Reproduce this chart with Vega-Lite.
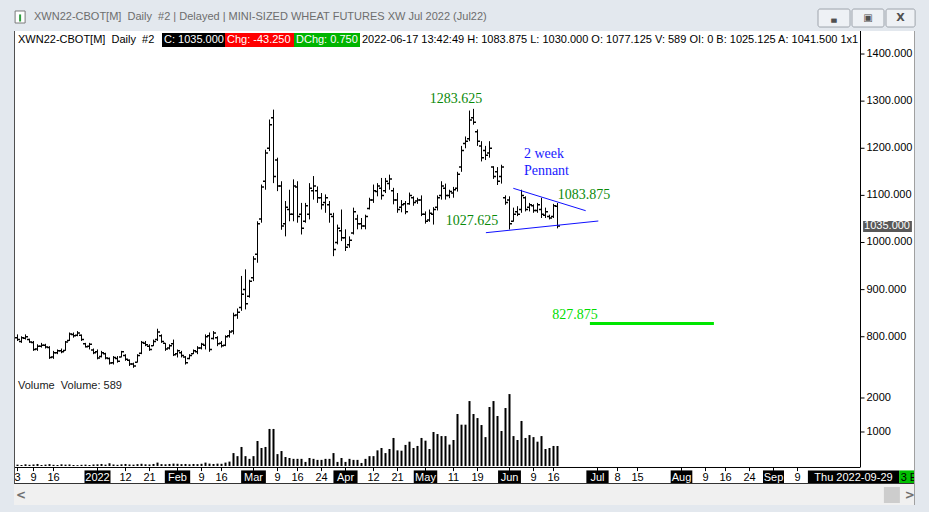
{
"$schema": "https://vega.github.io/schema/vega-lite/v6.json",
"background": "#e3e8ee",
"autosize": {"type": "none"},
"width": 901,
"height": 474,
"padding": {"left": 14, "right": 14, "top": 31, "bottom": 7},
"config": {"view": {"stroke": null, "fill": "#ffffff"}, "font": "Liberation Sans"},
"datasets": {
"bars": [
{"t":0,"o":798,"h":805,"l":791,"c":794,"v":40},
{"t":1,"o":790,"h":801,"l":787,"c":798,"v":30},
{"t":2,"o":797,"h":805,"l":794,"c":800,"v":50},
{"t":3,"o":794,"h":796,"l":787,"c":789,"v":35},
{"t":4,"o":788,"h":791,"l":770,"c":773,"v":45},
{"t":5,"o":774,"h":784,"l":770,"c":780,"v":60},
{"t":6,"o":780,"h":787,"l":777,"c":782,"v":30},
{"t":7,"o":782,"h":785,"l":775,"c":778,"v":40},
{"t":8,"o":777,"h":780,"l":753,"c":756,"v":55},
{"t":9,"o":757,"h":770,"l":753,"c":766,"v":35},
{"t":10,"o":766,"h":773,"l":763,"c":770,"v":30},
{"t":11,"o":770,"h":775,"l":765,"c":768,"v":50},
{"t":12,"o":771,"h":791,"l":770,"c":789,"v":40},
{"t":13,"o":792,"h":809,"l":791,"c":806,"v":45},
{"t":14,"o":805,"h":809,"l":798,"c":802,"v":30},
{"t":15,"o":803,"h":812,"l":801,"c":808,"v":25},
{"t":16,"o":803,"h":805,"l":791,"c":794,"v":35},
{"t":17,"o":785,"h":787,"l":777,"c":779,"v":40},
{"t":18,"o":780,"h":787,"l":773,"c":784,"v":30},
{"t":19,"o":772,"h":775,"l":763,"c":766,"v":45},
{"t":20,"o":768,"h":773,"l":752,"c":755,"v":50},
{"t":21,"o":758,"h":770,"l":756,"c":766,"v":60},
{"t":22,"o":764,"h":766,"l":752,"c":755,"v":40},
{"t":23,"o":754,"h":756,"l":741,"c":744,"v":80},
{"t":24,"o":745,"h":759,"l":741,"c":756,"v":45},
{"t":25,"o":754,"h":759,"l":745,"c":748,"v":35},
{"t":26,"o":757,"h":770,"l":756,"c":768,"v":50},
{"t":27,"o":760,"h":763,"l":749,"c":752,"v":60},
{"t":28,"o":750,"h":752,"l":738,"c":742,"v":45},
{"t":29,"o":742,"h":745,"l":734,"c":738,"v":40},
{"t":30,"o":746,"h":763,"l":745,"c":760,"v":55},
{"t":31,"o":765,"h":791,"l":763,"c":788,"v":65},
{"t":32,"o":786,"h":791,"l":780,"c":783,"v":50},
{"t":33,"o":780,"h":784,"l":770,"c":773,"v":45},
{"t":34,"o":781,"h":794,"l":780,"c":790,"v":60},
{"t":35,"o":794,"h":817,"l":791,"c":810,"v":100},
{"t":36,"o":802,"h":805,"l":787,"c":790,"v":55},
{"t":37,"o":786,"h":787,"l":770,"c":774,"v":50},
{"t":38,"o":776,"h":784,"l":773,"c":781,"v":60},
{"t":39,"o":785,"h":794,"l":759,"c":762,"v":70},
{"t":40,"o":764,"h":773,"l":756,"c":770,"v":65},
{"t":41,"o":766,"h":770,"l":756,"c":760,"v":55},
{"t":42,"o":757,"h":759,"l":741,"c":745,"v":60},
{"t":43,"o":754,"h":763,"l":752,"c":760,"v":50},
{"t":44,"o":764,"h":773,"l":763,"c":770,"v":60},
{"t":45,"o":768,"h":780,"l":763,"c":776,"v":55},
{"t":46,"o":776,"h":787,"l":773,"c":784,"v":65},
{"t":47,"o":782,"h":805,"l":773,"c":800,"v":100},
{"t":48,"o":802,"h":809,"l":768,"c":773,"v":70},
{"t":49,"o":796,"h":812,"l":794,"c":808,"v":60},
{"t":50,"o":798,"h":801,"l":780,"c":785,"v":70},
{"t":51,"o":786,"h":791,"l":777,"c":781,"v":65},
{"t":52,"o":782,"h":803,"l":780,"c":800,"v":100},
{"t":53,"o":802,"h":814,"l":798,"c":810,"v":130},
{"t":54,"o":812,"h":851,"l":805,"c":845,"v":380},
{"t":55,"o":846,"h":860,"l":838,"c":852,"v":290},
{"t":56,"o":862,"h":929,"l":855,"c":890,"v":560},
{"t":57,"o":900,"h":943,"l":858,"c":870,"v":290},
{"t":58,"o":886,"h":921,"l":883,"c":918,"v":210},
{"t":59,"o":925,"h":971,"l":918,"c":965,"v":290},
{"t":60,"o":975,"h":1045,"l":957,"c":1040,"v":735},
{"t":61,"o":1050,"h":1123,"l":1042,"c":1118,"v":530},
{"t":62,"o":1130,"h":1197,"l":1112,"c":1190,"v":560},
{"t":63,"o":1200,"h":1261,"l":1194,"c":1250,"v":1090},
{"t":64,"o":1265,"h":1282,"l":1126,"c":1140,"v":1090},
{"t":65,"o":1175,"h":1180,"l":1109,"c":1120,"v":350},
{"t":66,"o":1120,"h":1130,"l":1027,"c":1035,"v":440},
{"t":67,"o":1040,"h":1088,"l":1013,"c":1075,"v":265},
{"t":68,"o":1070,"h":1112,"l":1045,"c":1060,"v":235},
{"t":69,"o":1060,"h":1134,"l":1045,"c":1120,"v":210},
{"t":70,"o":1118,"h":1130,"l":1042,"c":1055,"v":210},
{"t":71,"o":1060,"h":1084,"l":1017,"c":1030,"v":210},
{"t":72,"o":1045,"h":1084,"l":1042,"c":1078,"v":120},
{"t":73,"o":1060,"h":1126,"l":1049,"c":1115,"v":235},
{"t":74,"o":1110,"h":1141,"l":1091,"c":1120,"v":210},
{"t":75,"o":1110,"h":1119,"l":1084,"c":1095,"v":180},
{"t":76,"o":1095,"h":1105,"l":1070,"c":1080,"v":180},
{"t":77,"o":1085,"h":1102,"l":1063,"c":1095,"v":210},
{"t":78,"o":1080,"h":1088,"l":1042,"c":1060,"v":210},
{"t":79,"o":1055,"h":1063,"l":971,"c":985,"v":380},
{"t":80,"o":1000,"h":1038,"l":996,"c":1030,"v":120},
{"t":81,"o":1025,"h":1070,"l":1003,"c":1010,"v":235},
{"t":82,"o":1010,"h":1028,"l":982,"c":990,"v":120},
{"t":83,"o":995,"h":1013,"l":989,"c":1005,"v":210},
{"t":84,"o":1020,"h":1074,"l":1017,"c":1065,"v":180},
{"t":85,"o":1050,"h":1059,"l":1028,"c":1040,"v":180},
{"t":86,"o":1040,"h":1052,"l":1028,"c":1035,"v":90},
{"t":87,"o":1035,"h":1059,"l":1028,"c":1055,"v":210},
{"t":88,"o":1072,"h":1095,"l":1070,"c":1090,"v":290},
{"t":89,"o":1090,"h":1123,"l":1084,"c":1110,"v":290},
{"t":90,"o":1108,"h":1126,"l":1098,"c":1120,"v":460},
{"t":91,"o":1115,"h":1137,"l":1091,"c":1100,"v":530},
{"t":92,"o":1110,"h":1137,"l":1105,"c":1130,"v":380},
{"t":93,"o":1125,"h":1144,"l":1112,"c":1135,"v":500},
{"t":94,"o":1110,"h":1116,"l":1081,"c":1090,"v":825},
{"t":95,"o":1090,"h":1105,"l":1063,"c":1070,"v":460},
{"t":96,"o":1075,"h":1090,"l":1064,"c":1080,"v":450},
{"t":97,"o":1082,"h":1088,"l":1060,"c":1065,"v":620},
{"t":98,"o":1082,"h":1106,"l":1080,"c":1100,"v":715},
{"t":99,"o":1095,"h":1098,"l":1078,"c":1085,"v":530},
{"t":100,"o":1088,"h":1095,"l":1082,"c":1090,"v":590},
{"t":101,"o":1090,"h":1100,"l":1056,"c":1060,"v":825},
{"t":102,"o":1060,"h":1066,"l":1040,"c":1045,"v":745},
{"t":103,"o":1048,"h":1070,"l":1044,"c":1062,"v":500},
{"t":104,"o":1060,"h":1075,"l":1038,"c":1070,"v":1000},
{"t":105,"o":1075,"h":1100,"l":1068,"c":1095,"v":940},
{"t":106,"o":1100,"h":1130,"l":1091,"c":1120,"v":880},
{"t":107,"o":1115,"h":1125,"l":1091,"c":1100,"v":880},
{"t":108,"o":1100,"h":1112,"l":1094,"c":1108,"v":630},
{"t":109,"o":1105,"h":1118,"l":1095,"c":1112,"v":765},
{"t":110,"o":1115,"h":1150,"l":1108,"c":1145,"v":1530},
{"t":111,"o":1160,"h":1205,"l":1150,"c":1195,"v":1215},
{"t":112,"o":1210,"h":1225,"l":1200,"c":1215,"v":1215},
{"t":113,"o":1220,"h":1280,"l":1215,"c":1260,"v":1910},
{"t":114,"o":1265,"h":1283.625,"l":1250,"c":1255,"v":1530},
{"t":115,"o":1235,"h":1240,"l":1205,"c":1215,"v":1410},
{"t":116,"o":1205,"h":1215,"l":1172,"c":1180,"v":1205},
{"t":117,"o":1195,"h":1205,"l":1175,"c":1185,"v":850},
{"t":118,"o":1190,"h":1215,"l":1180,"c":1200,"v":1735},
{"t":119,"o":1160,"h":1162,"l":1135,"c":1140,"v":1910},
{"t":120,"o":1150,"h":1160,"l":1122,"c":1130,"v":1470},
{"t":121,"o":1140,"h":1165,"l":1125,"c":1160,"v":1030},
{"t":122,"o":1095,"h":1100,"l":1080,"c":1085,"v":1705},
{"t":123,"o":1090,"h":1098,"l":1027.625,"c":1040,"v":2115},
{"t":124,"o":1045,"h":1074,"l":1044,"c":1060,"v":880},
{"t":125,"o":1065,"h":1077,"l":1056,"c":1060,"v":765},
{"t":126,"o":1070,"h":1112,"l":1063,"c":1100,"v":1325},
{"t":127,"o":1095,"h":1098,"l":1066,"c":1070,"v":825},
{"t":128,"o":1075,"h":1084,"l":1066,"c":1080,"v":910},
{"t":129,"o":1078,"h":1081,"l":1063,"c":1068,"v":850},
{"t":130,"o":1068,"h":1084,"l":1063,"c":1080,"v":715},
{"t":131,"o":1070,"h":1095,"l":1052,"c":1060,"v":880},
{"t":132,"o":1058,"h":1074,"l":1052,"c":1065,"v":500},
{"t":133,"o":1055,"h":1059,"l":1049,"c":1052,"v":530},
{"t":134,"o":1055,"h":1082,"l":1052,"c":1078.25,"v":590},
{"t":135,"o":1077.125,"h":1083.875,"l":1030,"c":1035,"v":589}
],
"pticks": [{"p":800,"label":"800.000"},{"p":900,"label":"900.000"},{"p":1000,"label":"1000.000"},{"p":1100,"label":"1100.000"},{"p":1200,"label":"1200.000"},{"p":1300,"label":"1300.000"},{"p":1400,"label":"1400.000"}],
"vticks": [{"v":1000,"label":"1000"},{"v":2000,"label":"2000"}],
"days": [{"t":0,"label":"3"},{"t":4,"label":"9"},{"t":9,"label":"16"},{"t":27,"label":"12"},{"t":33,"label":"21"},{"t":46,"label":"9"},{"t":51,"label":"16"},{"t":65,"label":"9"},{"t":70,"label":"16"},{"t":76,"label":"24"},{"t":89,"label":"12"},{"t":95,"label":"21"},{"t":109,"label":"11"},{"t":115,"label":"19"},{"t":129,"label":"9"},{"t":134,"label":"16"},{"t":150,"label":"8"},{"t":155,"label":"15"},{"t":172,"label":"9"},{"t":177,"label":"16"},{"t":183,"label":"24"},{"t":195,"label":"9"}],
"months": [{"t":20,"label":"2022"},{"t":40,"label":"Feb"},{"t":59,"label":"Mar"},{"t":82,"label":"Apr"},{"t":102,"label":"May"},{"t":123,"label":"Jun"},{"t":145,"label":"Jul"},{"t":166,"label":"Aug"},{"t":189,"label":"Sep"}]
},
"resolve": {"scale": {"y": "independent"}},
"layer": [
{
"layer": [
{"data": {"name": "bars"}, "mark": {"type": "rule", "color": "#000000", "strokeWidth": 1},
 "encoding": {
  "x": {"field": "t", "type": "quantitative", "scale": {"domain": [-0.875, 224.375], "nice": false, "zero": false, "padding": 0}, "axis": null},
  "y": {"field": "l", "type": "quantitative", "scale": {"domain": [442.9, 1448.85], "nice": false, "zero": false, "padding": 0}, "axis": null},
  "y2": {"field": "h"}
 }},
{"data": {"name": "bars"}, "mark": {"type": "tick", "orient": "horizontal", "size": 2, "thickness": 1.5, "xOffset": -1.5, "color": "#000000", "opacity": 1},
 "encoding": {"x": {"field": "t", "type": "quantitative", "axis": null}, "y": {"field": "o", "type": "quantitative", "axis": null}}},
{"data": {"name": "bars"}, "mark": {"type": "tick", "orient": "horizontal", "size": 2, "thickness": 1.5, "xOffset": 1.5, "color": "#000000", "opacity": 1},
 "encoding": {"x": {"field": "t", "type": "quantitative", "axis": null}, "y": {"field": "c", "type": "quantitative", "axis": null}}},
{"data": {"name": "pticks"}, "mark": {"type": "rule", "color": "#000000", "strokeWidth": 1},
 "encoding": {"x": {"datum": 210.75, "type": "quantitative", "axis": null}, "x2": {"datum": 211.75}, "y": {"field": "p", "type": "quantitative", "axis": null}}},
{"data": {"name": "pticks"}, "mark": {"type": "text", "font": "Liberation Sans", "fontSize": 11, "color": "#000000", "align": "left", "baseline": "middle"},
 "encoding": {"x": {"datum": 212.25, "type": "quantitative", "axis": null}, "y": {"field": "p", "type": "quantitative", "axis": null}, "text": {"field": "label"}}},
{"data": {"values": [{}]}, "mark": {"type": "rule", "color": "#1010ff", "strokeWidth": 1},
 "encoding": {"x": {"datum": 123.95, "type": "quantitative", "axis": null}, "y": {"datum": 1115.0, "type": "quantitative", "axis": null}, "x2": {"datum": 142.05}, "y2": {"datum": 1067.5}}},
{"data": {"values": [{}]}, "mark": {"type": "rule", "color": "#1010ff", "strokeWidth": 1},
 "encoding": {"x": {"datum": 117.1, "type": "quantitative", "axis": null}, "y": {"datum": 1020.8, "type": "quantitative", "axis": null}, "x2": {"datum": 145.2}, "y2": {"datum": 1045.6}}},
{"data": {"values": [{}]}, "mark": {"type": "rule", "color": "#00e600", "strokeWidth": 3},
 "encoding": {"x": {"datum": 143.1, "type": "quantitative", "axis": null}, "x2": {"datum": 174.1}, "y": {"datum": 827.875, "type": "quantitative", "axis": null}}},
{"data": {"values": [{}]}, "mark": {"type": "text", "text": "1283.625", "font": "Liberation Serif", "fontSize": 14, "color": "#0a8a0a", "align": "center", "baseline": "middle"},
 "encoding": {"x": {"datum": 109.6, "type": "quantitative", "axis": null}, "y": {"datum": 1303.5, "type": "quantitative", "axis": null}}},
{"data": {"values": [{}]}, "mark": {"type": "text", "text": "1027.625", "font": "Liberation Serif", "fontSize": 14, "color": "#0a8a0a", "align": "center", "baseline": "middle"},
 "encoding": {"x": {"datum": 113.6, "type": "quantitative", "axis": null}, "y": {"datum": 1045.6, "type": "quantitative", "axis": null}}},
{"data": {"values": [{}]}, "mark": {"type": "text", "text": "1083.875", "font": "Liberation Serif", "fontSize": 14, "color": "#0a8a0a", "align": "center", "baseline": "middle"},
 "encoding": {"x": {"datum": 141.6, "type": "quantitative", "axis": null}, "y": {"datum": 1100.8, "type": "quantitative", "axis": null}}},
{"data": {"values": [{}]}, "mark": {"type": "text", "text": "2 week", "font": "Liberation Serif", "fontSize": 14, "color": "#1a1aff", "align": "left", "baseline": "middle"},
 "encoding": {"x": {"datum": 126.6, "type": "quantitative", "axis": null}, "y": {"datum": 1186.8, "type": "quantitative", "axis": null}}},
{"data": {"values": [{}]}, "mark": {"type": "text", "text": "Pennant", "font": "Liberation Serif", "fontSize": 14, "color": "#1a1aff", "align": "left", "baseline": "middle"},
 "encoding": {"x": {"datum": 126.6, "type": "quantitative", "axis": null}, "y": {"datum": 1151.7, "type": "quantitative", "axis": null}}},
{"data": {"values": [{}]}, "mark": {"type": "text", "text": "827.875", "font": "Liberation Serif", "fontSize": 14, "color": "#00dd00", "align": "center", "baseline": "middle"},
 "encoding": {"x": {"datum": 139.4, "type": "quantitative", "axis": null}, "y": {"datum": 846.1, "type": "quantitative", "axis": null}}},
{"data": {"values": [{}]}, "mark": {"type": "text", "text": "XWN22-CBOT[M]\u00a0 Daily\u00a0 #2", "font": "Liberation Sans", "fontSize": 11, "color": "#000000", "align": "left", "baseline": "middle"},
 "encoding": {"x": {"datum": 0.125, "type": "quantitative", "axis": null}, "y": {"datum": 1429.8, "type": "quantitative", "axis": null}}},
{"data": {"values": [{}]}, "mark": {"type": "rect", "color": "#000000"},
 "encoding": {"x": {"datum": 36.125, "type": "quantitative", "axis": null}, "x2": {"datum": 51.875}, "y": {"datum": 1444.6, "type": "quantitative", "axis": null}, "y2": {"datum": 1414.9}}},
{"data": {"values": [{}]}, "mark": {"type": "text", "text": "C: 1035.000", "font": "Liberation Sans", "fontSize": 11, "color": "#ffffff", "align": "left", "baseline": "middle"},
 "encoding": {"x": {"datum": 36.625, "type": "quantitative", "axis": null}, "y": {"datum": 1429.8, "type": "quantitative", "axis": null}}},
{"data": {"values": [{}]}, "mark": {"type": "rect", "color": "#ff0000"},
 "encoding": {"x": {"datum": 51.875, "type": "quantitative", "axis": null}, "x2": {"datum": 69.125}, "y": {"datum": 1444.6, "type": "quantitative", "axis": null}, "y2": {"datum": 1414.9}}},
{"data": {"values": [{}]}, "mark": {"type": "text", "text": "Chg: -43.250", "font": "Liberation Sans", "fontSize": 11, "color": "#ffffff", "align": "left", "baseline": "middle"},
 "encoding": {"x": {"datum": 52.375, "type": "quantitative", "axis": null}, "y": {"datum": 1429.8, "type": "quantitative", "axis": null}}},
{"data": {"values": [{}]}, "mark": {"type": "rect", "color": "#00b400"},
 "encoding": {"x": {"datum": 69.125, "type": "quantitative", "axis": null}, "x2": {"datum": 85.625}, "y": {"datum": 1444.6, "type": "quantitative", "axis": null}, "y2": {"datum": 1414.9}}},
{"data": {"values": [{}]}, "mark": {"type": "text", "text": "DChg: 0.750", "font": "Liberation Sans", "fontSize": 11, "color": "#ffffff", "align": "left", "baseline": "middle"},
 "encoding": {"x": {"datum": 69.625, "type": "quantitative", "axis": null}, "y": {"datum": 1429.8, "type": "quantitative", "axis": null}}},
{"data": {"values": [{}]}, "mark": {"type": "text", "text": "2022-06-17 13:42:49 H: 1083.875 L: 1030.000 O: 1077.125 V: 589 OI: 0 B: 1025.125 A: 1041.500 1x1", "font": "Liberation Sans", "fontSize": 11, "color": "#000000", "align": "left", "baseline": "middle"},
 "encoding": {"x": {"datum": 86.125, "type": "quantitative", "axis": null}, "y": {"datum": 1429.8, "type": "quantitative", "axis": null}}},
{"data": {"values": [{}]}, "mark": {"type": "rect", "color": "#595959"},
 "encoding": {"x": {"datum": 211.4, "type": "quantitative", "axis": null}, "x2": {"datum": 223.6}, "y": {"datum": 1045.6, "type": "quantitative", "axis": null}, "y2": {"datum": 1022.3}}},
{"data": {"values": [{}]}, "mark": {"type": "text", "text": "1035.000", "font": "Liberation Sans", "fontSize": 11, "color": "#ffffff", "align": "left", "baseline": "middle"},
 "encoding": {"x": {"datum": 211.65, "type": "quantitative", "axis": null}, "y": {"datum": 1034, "type": "quantitative", "axis": null}}},
{"data": {"values": [{}]}, "mark": {"type": "text", "text": "XWN22-CBOT[M]\u00a0 Daily\u00a0 #2 | Delayed | MINI-SIZED WHEAT FUTURES XW Jul 2022 (Jul22)", "font": "Liberation Sans", "fontSize": 11, "color": "#6d6d6d", "align": "left", "baseline": "middle"},
 "encoding": {"x": {"datum": 4.125, "type": "quantitative", "axis": null}, "y": {"datum": 1478.6, "type": "quantitative", "axis": null}}},
{"data": {"values": [{}]}, "mark": {"type": "rect", "fill": "#ffffff", "stroke": "#7a7a7a", "strokeWidth": 1},
 "encoding": {"x": {"datum": -0.6, "type": "quantitative", "axis": null}, "x2": {"datum": 1.9}, "y": {"datum": 1491.3, "type": "quantitative", "axis": null}, "y2": {"datum": 1465.8}}},
{"data": {"values": [{}]}, "mark": {"type": "rect", "color": "#2e9e3e"},
 "encoding": {"x": {"datum": 0.4, "type": "quantitative", "axis": null}, "x2": {"datum": 0.9}, "y": {"datum": 1484, "type": "quantitative", "axis": null}, "y2": {"datum": 1469}}},
{"data": {"values": [{}]}, "mark": {"type": "rect", "fill": "#eef1f5", "stroke": "#9ea4ac", "strokeWidth": 1, "cornerRadius": 2},
 "encoding": {"x": {"datum": 200.125, "type": "quantitative", "axis": null}, "x2": {"datum": 208.125}, "y": {"datum": 1495.5, "type": "quantitative", "axis": null}, "y2": {"datum": 1457.3}}},
{"data": {"values": [{}]}, "mark": {"type": "rect", "fill": "#eef1f5", "stroke": "#9ea4ac", "strokeWidth": 1, "cornerRadius": 2},
 "encoding": {"x": {"datum": 208.625, "type": "quantitative", "axis": null}, "x2": {"datum": 216.625}, "y": {"datum": 1495.5, "type": "quantitative", "axis": null}, "y2": {"datum": 1457.3}}},
{"data": {"values": [{}]}, "mark": {"type": "rect", "fill": "#eef1f5", "stroke": "#9ea4ac", "strokeWidth": 1, "cornerRadius": 2},
 "encoding": {"x": {"datum": 217.125, "type": "quantitative", "axis": null}, "x2": {"datum": 224.4}, "y": {"datum": 1495.5, "type": "quantitative", "axis": null}, "y2": {"datum": 1457.3}}},
{"data": {"values": [{}]}, "mark": {"type": "text", "text": "\u2584", "font": "DejaVu Sans", "fontSize": 7, "color": "#505050", "align": "center", "baseline": "middle"},
 "encoding": {"x": {"datum": 204.125, "type": "quantitative", "axis": null}, "y": {"datum": 1474, "type": "quantitative", "axis": null}}},
{"data": {"values": [{}]}, "mark": {"type": "text", "text": "\u25a3", "font": "DejaVu Sans", "fontSize": 10, "color": "#505050", "align": "center", "baseline": "middle"},
 "encoding": {"x": {"datum": 212.625, "type": "quantitative", "axis": null}, "y": {"datum": 1476.4, "type": "quantitative", "axis": null}}},
{"data": {"values": [{}]}, "mark": {"type": "text", "text": "X", "font": "DejaVu Sans", "fontSize": 11, "fontWeight": "bold", "color": "#505050", "align": "center", "baseline": "middle"},
 "encoding": {"x": {"datum": 220.76, "type": "quantitative", "axis": null}, "y": {"datum": 1476.4, "type": "quantitative", "axis": null}}}
]
},
{
"layer": [
{"data": {"values": [{}]}, "mark": {"type": "rect", "color": "#f0f0f0"},
 "encoding": {"x": {"datum": -0.875, "type": "quantitative", "axis": null}, "x2": {"datum": 224.375}, "y": {"datum": -530, "type": "quantitative", "scale": {"domain": [-1147.1, 12794.1], "nice": false, "zero": false, "padding": 0}, "axis": null}, "y2": {"datum": -1147.1}}},
{"data": {"values": [{}]}, "mark": {"type": "rect", "color": "#cdcdcd"},
 "encoding": {"x": {"datum": 216.6, "type": "quantitative", "axis": null}, "x2": {"datum": 220.6}, "y": {"datum": -618, "type": "quantitative", "axis": null}, "y2": {"datum": -1088}}},
{"data": {"values": [{}]}, "mark": {"type": "text", "text": "<", "font": "DejaVu Sans", "fontSize": 12, "fontWeight": "bold", "color": "#707070", "align": "center", "baseline": "middle"},
 "encoding": {"x": {"datum": 0.9, "type": "quantitative", "axis": null}, "y": {"datum": -853, "type": "quantitative", "axis": null}}},
{"data": {"values": [{}]}, "mark": {"type": "text", "text": ">", "font": "DejaVu Sans", "fontSize": 12, "fontWeight": "bold", "color": "#707070", "align": "center", "baseline": "middle"},
 "encoding": {"x": {"datum": 223.1, "type": "quantitative", "axis": null}, "y": {"datum": -853, "type": "quantitative", "axis": null}}},
{"data": {"name": "bars"}, "mark": {"type": "bar", "orient": "vertical", "size": 2, "color": "#000000"},
 "encoding": {"x": {"field": "t", "type": "quantitative", "axis": null}, "y": {"field": "v", "type": "quantitative", "axis": null}, "y2": {"datum": 0}}},
{"data": {"name": "vticks"}, "mark": {"type": "rule", "color": "#000000", "strokeWidth": 1},
 "encoding": {"x": {"datum": 210.75, "type": "quantitative", "axis": null}, "x2": {"datum": 211.75}, "y": {"field": "v", "type": "quantitative", "axis": null}}},
{"data": {"name": "vticks"}, "mark": {"type": "text", "font": "Liberation Sans", "fontSize": 11, "color": "#000000", "align": "left", "baseline": "middle"},
 "encoding": {"x": {"datum": 212.25, "type": "quantitative", "axis": null}, "y": {"field": "v", "type": "quantitative", "axis": null}, "text": {"field": "label"}}},
{"data": {"name": "months"}, "mark": {"type": "bar", "orient": "vertical", "color": "#000000"},
 "encoding": {"x": {"field": "t", "type": "quantitative", "axis": null}, "y": {"datum": -130, "type": "quantitative", "axis": null}, "y2": {"datum": -530},
  "size": {"field": "label", "type": "nominal", "scale": {"domain": ["2022","Feb","Mar","Apr","May","Jun","Jul","Aug","Sep"], "range": [26,21,23,21,25,20,17,24,21]}, "legend": null}}},
{"data": {"name": "months"}, "mark": {"type": "rule", "color": "#000000", "strokeWidth": 1},
 "encoding": {"x": {"field": "t", "type": "quantitative", "axis": null}, "y": {"datum": -30, "type": "quantitative", "axis": null}, "y2": {"datum": -150}}},
{"data": {"name": "days"}, "mark": {"type": "rule", "color": "#000000", "strokeWidth": 1},
 "encoding": {"x": {"field": "t", "type": "quantitative", "axis": null}, "y": {"datum": -30, "type": "quantitative", "axis": null}, "y2": {"datum": -150}}},
{"data": {"name": "months"}, "mark": {"type": "text", "font": "Liberation Sans", "fontSize": 11, "color": "#ffffff", "align": "center", "baseline": "middle"},
 "encoding": {"x": {"field": "t", "type": "quantitative", "axis": null}, "y": {"datum": -345, "type": "quantitative", "axis": null}, "text": {"field": "label"}}},
{"data": {"name": "days"}, "mark": {"type": "text", "font": "Liberation Sans", "fontSize": 11, "color": "#000000", "align": "center", "baseline": "middle"},
 "encoding": {"x": {"field": "t", "type": "quantitative", "axis": null}, "y": {"datum": -345, "type": "quantitative", "axis": null}, "text": {"field": "label"}}},
{"data": {"values": [{}]}, "mark": {"type": "rect", "color": "#000000"},
 "encoding": {"x": {"datum": 197.6, "type": "quantitative", "axis": null}, "x2": {"datum": 220.4}, "y": {"datum": -130, "type": "quantitative", "axis": null}, "y2": {"datum": -530}}},
{"data": {"values": [{}]}, "mark": {"type": "text", "text": "Thu 2022-09-29", "font": "Liberation Sans", "fontSize": 11, "color": "#ffffff", "align": "center", "baseline": "middle"},
 "encoding": {"x": {"datum": 209, "type": "quantitative", "axis": null}, "y": {"datum": -345, "type": "quantitative", "axis": null}}},
{"data": {"values": [{}]}, "mark": {"type": "rect", "color": "#00c000"},
 "encoding": {"x": {"datum": 220.4, "type": "quantitative", "axis": null}, "x2": {"datum": 224.375}, "y": {"datum": -130, "type": "quantitative", "axis": null}, "y2": {"datum": -530}}},
{"data": {"values": [{}]}, "mark": {"type": "text", "text": "3 E", "font": "Liberation Sans", "fontSize": 11, "color": "#000000", "align": "left", "baseline": "middle", "clip": true},
 "encoding": {"x": {"datum": 220.8, "type": "quantitative", "axis": null}, "y": {"datum": -345, "type": "quantitative", "axis": null}}},
{"data": {"values": [{}]}, "mark": {"type": "rule", "color": "#000000", "strokeWidth": 1},
 "encoding": {"x": {"datum": -0.875, "type": "quantitative", "axis": null}, "x2": {"datum": 210.75}, "y": {"datum": -44, "type": "quantitative", "axis": null}}},
{"data": {"values": [{}]}, "mark": {"type": "rule", "color": "#333333", "strokeWidth": 1},
 "encoding": {"x": {"datum": -0.875, "type": "quantitative", "axis": null}, "x2": {"datum": 224.375}, "y": {"datum": -515, "type": "quantitative", "axis": null}}},
{"data": {"values": [{}]}, "mark": {"type": "rule", "color": "#505050", "strokeWidth": 1},
 "encoding": {"x": {"datum": -0.75, "type": "quantitative", "axis": null}, "y": {"datum": 12794.1, "type": "quantitative", "axis": null}, "y2": {"datum": -515}}},
{"data": {"values": [{}]}, "mark": {"type": "rule", "color": "#000000", "strokeWidth": 1},
 "encoding": {"x": {"datum": 210.75, "type": "quantitative", "axis": null}, "y": {"datum": 12794.1, "type": "quantitative", "axis": null}, "y2": {"datum": -30}}},
{"data": {"values": [{}]}, "mark": {"type": "rule", "color": "#a0a0a0", "strokeWidth": 1},
 "encoding": {"x": {"datum": 224.25, "type": "quantitative", "axis": null}, "y": {"datum": 12794.1, "type": "quantitative", "axis": null}, "y2": {"datum": -1147.1}}},
{"data": {"values": [{}]}, "mark": {"type": "text", "text": "Volume\u00a0 Volume: 589", "font": "Liberation Sans", "fontSize": 11, "color": "#1a1a1a", "align": "left", "baseline": "middle"},
 "encoding": {"x": {"datum": 0.125, "type": "quantitative", "axis": null}, "y": {"datum": 2353, "type": "quantitative", "axis": null}}}
]
}
]
}
